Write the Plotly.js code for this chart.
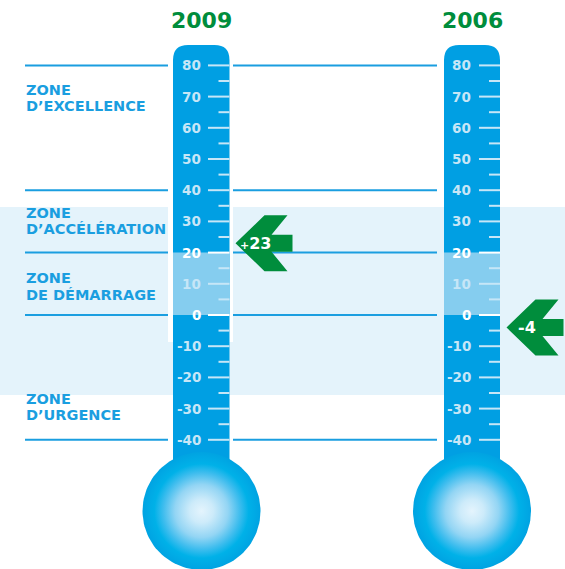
<!DOCTYPE html>
<html><head><meta charset="utf-8">
<script src="https://cdn.plot.ly/plotly-3.0.1.min.js"></script>
<style>html,body{margin:0;padding:0;background:#fff}#chart{width:565px;height:569px}</style>
</head><body><div id="chart"></div>
<script>
// ---- data ----
const years = ['2009', '2006'];
const scores = [23, -4];
const scoreLabels = ['+23', '-4'];
const majorTicks = [80, 70, 60, 50, 40, 30, 20, 10, 0, -10, -20, -30, -40];
const majorLabels = ['80', '70', '60', '50', '40', '30', '20', '10', '0', '-10', '-20', '-30', '-40'];
const minorTicks = [75, 65, 55, 45, 35, 25, 15, 5, -5, -15, -25, -35];
const zoneBounds = [80, 40, 20, 0, -40];
const zoneLine1 = ['ZONE', 'ZONE', 'ZONE', 'ZONE'];
const zoneLine2 = ['D’EXCELLENCE', 'D’ACCÉLÉRATION', 'DE DÉMARRAGE', 'D’URGENCE'];
const highlightZone = [0, 20];
const brightLabels = ['20', '0'];

// ---- layout / style (pixel geometry) ----
const W = 565, H = 569;
const tubeL = [173, 444], tubeR = [229.5, 500], tubeC = [201.5, 472];
const labelRight = [202.5, 472.5];
const majorStart = [208, 479], minorStart = [218.5, 489];
const arrowTip = [235.5, 506.5];
const bulbCY = 511, bulbR = 59;
const zoneTextY = [[89.5, 106], [213, 229], [278, 295], [399, 415]];
const blue = '#009fe3', lightFill = '#85cdef', band = '#e4f3fb', lineBlue = '#1a9ee0';
const green = '#008d3c', tickCol = '#c6e6f7';

const shapes = [];
const annotations = [];
const traces = [];

function fmtScore(s) {
  if (s[0] === '+') return '<span style="font-size:11px">+</span>' + s.slice(1);
  return s;
}

// background band
shapes.push({type: 'rect', xref: 'x', yref: 'y2', x0: 0, x1: W, y0: 207, y1: 395, fillcolor: band, line: {width: 0}, layer: 'below'});
// white patch behind first tube
shapes.push({type: 'rect', xref: 'x', yref: 'y2', x0: 168, x1: 233, y0: 207, y1: 342, fillcolor: '#ffffff', line: {width: 0}, layer: 'below'});
// zone lines
zoneBounds.forEach(v => {
  shapes.push({type: 'line', xref: 'x', yref: 'y', x0: 25, x1: 168, y0: v, y1: v, line: {color: lineBlue, width: 2}, layer: 'below'});
  shapes.push({type: 'line', xref: 'x', yref: 'y', x0: 233, x1: 437, y0: v, y1: v, line: {color: lineBlue, width: 2}, layer: 'below'});
});

for (let i = 0; i < 2; i++) {
  const l = tubeL[i], r = tubeR[i], top = 45, rad = 15;
  shapes.push({type: 'path', xref: 'x', yref: 'y2',
    path: `M${l},480 L${l},${top + rad} Q${l},${top} ${l + rad},${top} L${r - rad},${top} Q${r},${top} ${r},${top + rad} L${r},480 Z`,
    fillcolor: blue, line: {width: 0}, layer: 'below'});
  shapes.push({type: 'rect', xref: 'x', yref: 'y', x0: l, x1: r, y0: highlightZone[0], y1: highlightZone[1], fillcolor: lightFill, line: {width: 0}, layer: 'below'});
  majorTicks.forEach((v, k) => {
    const bright = brightLabels.includes(majorLabels[k]);
    shapes.push({type: 'line', xref: 'x', yref: 'y', x0: majorStart[i], x1: r, y0: v, y1: v, line: {color: bright ? '#ffffff' : tickCol, width: 2}, layer: 'below'});
    annotations.push({x: labelRight[i], y: v, xref: 'x', yref: 'y', xanchor: 'right', yanchor: 'middle', showarrow: false,
      text: majorLabels[k], font: {family: 'DejaVu Sans', size: 13.5, color: bright ? '#ffffff' : tickCol, weight: 'bold'}});
  });
  minorTicks.forEach(v => {
    shapes.push({type: 'line', xref: 'x', yref: 'y', x0: minorStart[i], x1: r, y0: v, y1: v, line: {color: tickCol, width: 2}, layer: 'below'});
  });
  // bulb
  const bx = [], by = [];
  for (let a = 0; a <= 360; a += 3) {
    const t = a * Math.PI / 180;
    bx.push(tubeC[i] + bulbR * Math.cos(t));
    by.push(bulbCY + bulbR * Math.sin(t));
  }
  traces.push({type: 'scatter', x: bx, y: by, yaxis: 'y2', mode: 'lines', fill: 'toself', line: {width: 0, color: blue},
    fillgradient: {type: 'radial', colorscale: [[0, '#e4f4fd'], [0.2, '#cdebfa'], [0.45, '#93d5f4'], [0.65, '#3fbdee'], [0.8, '#00b1e8'], [1, '#00a3e2']]},
    hoverinfo: 'skip', showlegend: false});
  // year title
  annotations.push({x: tubeC[i], y: 20, xref: 'x', yref: 'y2', showarrow: false, xanchor: 'center', yanchor: 'middle',
    text: years[i], font: {family: 'DejaVu Sans', size: 22, color: green, weight: 'bold'}});
  // score arrow
  shapes.push({type: 'path', xref: 'x', yref: 'y', xsizemode: 'pixel', ysizemode: 'pixel', xanchor: arrowTip[i], yanchor: scores[i],
    path: 'M0,0 L29,28 L52,28 L36,8.5 L57,8.5 L57,-8.5 L36,-8.5 L52,-28 L29,-28 Z',
    fillcolor: green, line: {width: 0}, layer: 'above'});
  annotations.push({x: arrowTip[i] + 20, y: scores[i], xref: 'x', yref: 'y', showarrow: false, xanchor: 'center', yanchor: 'middle',
    text: fmtScore(scoreLabels[i]), font: {family: 'DejaVu Sans', size: 16, color: '#ffffff', weight: 'bold'}});
}

// zone labels
zoneLine1.forEach((t, k) => {
  [t, zoneLine2[k]].forEach((s, j) => {
    annotations.push({x: 24, y: zoneTextY[k][j], xref: 'x', yref: 'y2', xanchor: 'left', yanchor: 'middle', showarrow: false,
      text: s, font: {family: 'DejaVu Sans', size: 14.5, color: lineBlue, weight: 'bold'}});
  });
});

traces.push({type: 'scatter', x: [0], y: [0], mode: 'markers', marker: {opacity: 0}, hoverinfo: 'skip', showlegend: false});

const layout = {
  width: W, height: H, margin: {l: 0, r: 0, t: 0, b: 0, pad: 0},
  paper_bgcolor: '#ffffff', plot_bgcolor: '#ffffff', showlegend: false,
  xaxis: {range: [0, W], visible: false, fixedrange: true},
  yaxis: {range: [-81.41, 100.96], visible: false, fixedrange: true},
  yaxis2: {range: [H, 0], visible: false, overlaying: 'y', fixedrange: true},
  shapes: shapes, annotations: annotations
};
Plotly.newPlot('chart', traces, layout, {staticPlot: true, displayModeBar: false});
</script></body></html>
